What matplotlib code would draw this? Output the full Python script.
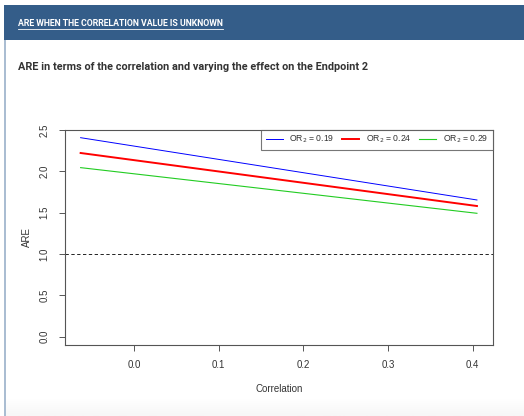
import numpy as np
import matplotlib
matplotlib.use("Agg")
import matplotlib.pyplot as plt
from matplotlib.patches import Rectangle
from matplotlib.lines import Line2D

# ── Data ─────────────────────────────────────────────────────────────────
correlation = [-0.063, 0.405]
are_or_019 = [2.406, 1.653]
are_or_024 = [2.221, 1.580]
are_or_029 = [2.044, 1.492]
series_labels = ["OR$_2$ = 0.19", "OR$_2$ = 0.24", "OR$_2$ = 0.29"]
x_ticks = [0.0, 0.1, 0.2, 0.3, 0.4]
y_ticks = [0.0, 0.5, 1.0, 1.5, 2.0, 2.5]

W, H = 524, 416
fig = plt.figure(figsize=(W / 100, H / 100), dpi=100)
fig.patch.set_facecolor("white")


def fx(px):
    return px / W


def fy(py):
    return 1 - py / H


# ── Card decoration ──────────────────────────────────────────────────────
fig.add_artist(Rectangle((fx(4), fy(40)), 1 - fx(4), fy(5) - fy(40),
                         transform=fig.transFigure, color="#345d89", lw=0))
fig.add_artist(Rectangle((fx(4), 0), fx(2.2), fy(40),
                         transform=fig.transFigure, color="#aabdd2", lw=0))

# faint gradient at the bottom of the card
grad_ax = fig.add_axes([fx(6.2), 0, 1 - fx(6.2), fy(398)])
grad_ax.imshow(np.linspace(1.0, 0.965, 50).reshape(-1, 1), cmap="gray",
               vmin=0, vmax=1, aspect="auto", extent=[0, 1, 0, 1])
grad_ax.axis("off")

hdr = fig.text(fx(18), fy(23), "ARE WHEN THE CORRELATION VALUE IS UNKNOWN",
               color="white", fontsize=6.35, fontweight="bold",
               family="Roboto", va="center", ha="left")
fig.canvas.draw()
bb = hdr.get_window_extent()
fig.add_artist(Line2D([bb.x0 / W, bb.x1 / W], [(bb.y0 - 1.5) / H] * 2,
                      transform=fig.transFigure, color="white", lw=0.6))

fig.text(fx(18), fy(67), "ARE in terms of the correlation and varying the effect on the Endpoint 2",
         color="#333333", fontsize=7.85, fontweight="bold", family="Roboto",
         va="center", ha="left")

# ── Plot ─────────────────────────────────────────────────────────────────
ax = fig.add_axes([fx(64.7), fy(344.5), fx(492.7) - fx(64.7), fy(129.5) - fy(344.5)])
ax.plot(correlation, are_or_019, color="#0000ff", lw=0.7, label=series_labels[0])
ax.plot(correlation, are_or_024, color="#ff0000", lw=1.4, label=series_labels[1])
ax.plot(correlation, are_or_029, color="#22cc22", lw=0.8, label=series_labels[2])
ax.axhline(1.0, color="black", lw=0.6, ls=(0, (4, 3)))

ax.set_xlim(-0.0818, 0.4236)
ax.set_ylim(-0.094, 2.505)
ax.set_xticks(x_ticks)
ax.set_yticks(y_ticks)
ax.set_xticklabels([f"{v:.1f}" for v in x_ticks], family="Liberation Sans", fontsize=7, color="#333333")
ax.set_yticklabels([f"{v:.1f}" for v in y_ticks], family="Liberation Sans", fontsize=7,
                   color="#333333", rotation=90, va="center")
ax.tick_params(length=4, width=0.7, color="#555555", pad=7)
for s in ax.spines.values():
    s.set_color("#555555")
    s.set_linewidth(0.8)

ax.set_xlabel("Correlation", family="Liberation Sans", fontsize=7, color="#333333", labelpad=10)
ax.set_ylabel("ARE", family="Liberation Sans", fontsize=7, color="#333333", labelpad=5)

leg = ax.legend(loc="upper right", ncol=3, frameon=True, fancybox=False,
                borderaxespad=0, handlelength=1.95, handletextpad=0.8,
                columnspacing=0.9, borderpad=0.5,
                prop={"family": "Liberation Sans", "size": 6.2})
leg.get_frame().set_edgecolor("#555555")
leg.get_frame().set_linewidth(0.8)
for t in leg.get_texts():
    t.set_color("#333333")

fig.savefig("out.png", dpi=100)
